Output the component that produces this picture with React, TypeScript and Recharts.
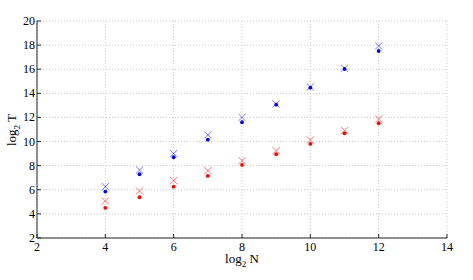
import { ScatterChart, Scatter, XAxis, YAxis, CartesianGrid } from "recharts";

const logN = [4, 5, 6, 7, 8, 9, 10, 11, 12];
const blueCross = [6.26, 7.64, 9.0, 10.55, 12.0, 13.12, 14.53, 16.08, 17.93];
const blueDot = [5.85, 7.29, 8.7, 10.16, 11.6, 13.06, 14.47, 16.02, 17.51];
const redCross = [5.07, 5.9, 6.76, 7.59, 8.42, 9.25, 10.13, 10.9, 11.87];
const redDot = [4.5, 5.38, 6.26, 7.15, 8.06, 8.95, 9.8, 10.68, 11.52];

const xTicks = [2, 4, 6, 8, 10, 12, 14];
const yTicks = [2, 4, 6, 8, 10, 12, 14, 16, 18, 20];

const FONT = "'Liberation Serif', 'DejaVu Serif', serif";
const FRAME = "#262626";

const toPts = (ys: number[]) => logN.map((x, i) => ({ x, y: ys[i] }));

const Cross = (color: string) => (p: any) => {
  const { cx, cy } = p;
  const s = 3.6;
  return (
    <g stroke={color} strokeWidth={0.9} strokeOpacity={0.6}>
      <line x1={cx - s} y1={cy - s} x2={cx + s} y2={cy + s} />
      <line x1={cx - s} y1={cy + s} x2={cx + s} y2={cy - s} />
    </g>
  );
};

const Dot = (color: string) => (p: any) => (
  <circle cx={p.cx} cy={p.cy} r={1.9} fill={color} />
);

// ticks point inward like matlab
const BottomTick = (p: any) => (
  <g>
    <line x1={p.x} y1={p.y - 4} x2={p.x} y2={p.y - 8} stroke={FRAME} />
    <text x={p.x} y={p.y + 9} textAnchor="middle" fontFamily={FONT} fontSize={12} fill="#000">
      {p.payload.value}
    </text>
  </g>
);
const TopTick = (p: any) => (
  <line x1={p.x} y1={p.y} x2={p.x} y2={p.y + 4} stroke={FRAME} />
);
const LeftTick = (p: any) => (
  <g>
    <line x1={p.x + 2} y1={p.y} x2={p.x + 6} y2={p.y} stroke={FRAME} />
    <text x={p.x} y={p.y + 4} textAnchor="end" fontFamily={FONT} fontSize={12} fill="#000">
      {p.payload.value}
    </text>
  </g>
);
const RightTick = (p: any) => (
  <line x1={p.x} y1={p.y} x2={p.x - 4} y2={p.y} stroke={FRAME} />
);

export default function App() {
  return (
    <div style={{ position: "absolute", left: 0, top: 0, background: "#fff" }}>
      <ScatterChart width={473} height={280} margin={{ top: 21, right: 26, bottom: 0, left: 0 }}>
        <CartesianGrid
          xAxisId="b"
          yAxisId="l"
          stroke="#c8c8c8"
          strokeDasharray="1 2"
          verticalPoints={undefined}
        />
        <XAxis
          xAxisId="b"
          type="number"
          dataKey="x"
          domain={[2, 14]}
          ticks={xTicks}
          height={42}
          tickSize={0}
          tickMargin={4}
          tick={BottomTick}
          tickLine={false}
          axisLine={{ stroke: FRAME }}
          label={{
            position: "insideBottom",
            content: () => (
              <text x={242} y={263} textAnchor="middle" fontFamily={FONT} fontSize={13} fill="#000">
                log<tspan fontSize={9} dy={4}>2</tspan>
                <tspan dy={-4}> N</tspan>
              </text>
            ),
          }}
        />
        <XAxis
          xAxisId="t"
          orientation="top"
          type="number"
          dataKey="x"
          domain={[2, 14]}
          ticks={xTicks}
          height={0}
          tickSize={0}
          tickMargin={0}
          tick={TopTick}
          tickLine={false}
          axisLine={{ stroke: FRAME }}
        />
        <YAxis
          yAxisId="l"
          type="number"
          dataKey="y"
          domain={[2, 20]}
          ticks={yTicks}
          width={37}
          tickSize={0}
          tickMargin={2}
          tick={LeftTick}
          tickLine={false}
          axisLine={{ stroke: FRAME }}
          label={{
            position: "insideLeft",
            content: () => (
              <text
                x={16}
                y={130}
                transform="rotate(-90 16 130)"
                textAnchor="middle"
                fontFamily={FONT}
                fontSize={13}
                fill="#000"
              >
                log<tspan fontSize={9} dy={4}>2</tspan>
                <tspan dy={-4}> T</tspan>
              </text>
            ),
          }}
        />
        <YAxis
          yAxisId="r"
          orientation="right"
          type="number"
          dataKey="y"
          domain={[2, 20]}
          ticks={yTicks}
          width={0}
          tickSize={0}
          tickMargin={0}
          tick={RightTick}
          tickLine={false}
          axisLine={{ stroke: FRAME }}
        />
        <Scatter xAxisId="b" yAxisId="l" data={toPts(blueCross)} shape={Cross("#0000ff")} isAnimationActive={false} />
        <Scatter xAxisId="b" yAxisId="l" data={toPts(blueDot)} shape={Dot("#0000ff")} isAnimationActive={false} />
        <Scatter xAxisId="b" yAxisId="l" data={toPts(redCross)} shape={Cross("#ff0000")} isAnimationActive={false} />
        <Scatter xAxisId="b" yAxisId="l" data={toPts(redDot)} shape={Dot("#ff0000")} isAnimationActive={false} />
      </ScatterChart>
    </div>
  );
}
